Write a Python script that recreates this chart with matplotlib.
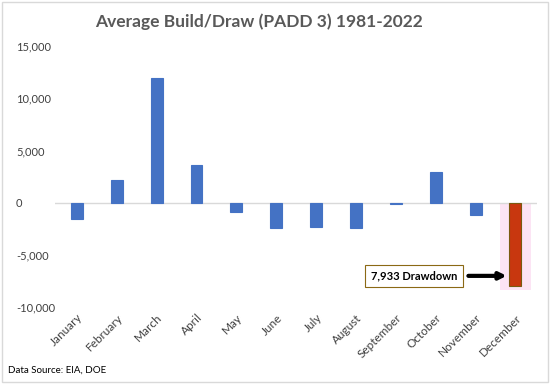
import matplotlib.pyplot as plt
from matplotlib.patches import Rectangle

# ==============================
# Data
# ==============================
months = ["January", "February", "March", "April", "May", "June", "July",
          "August", "September", "October", "November", "December"]
avg_change = [-1600, 2200, 11900, 3600, -850, -2450, -2350, -2450, -150, 2900, -1150, -7933]
yticks = [-10000, -5000, 0, 5000, 10000, 15000]

plt.rcParams['font.family'] = ['Lato', 'DejaVu Sans']

fig = plt.figure(figsize=(5.5, 3.84), dpi=100)
ax = fig.add_axes([0.1, 0.2, 0.877, 0.68])

colors = ['#4472C4'] * 11 + ['#C8370F']
edges = ['#4472C4'] * 11 + ['#7A5A10']
x = list(range(len(months)))
ax.bar(x, avg_change, width=0.3, color=colors, edgecolor=edges, linewidth=0.8, zorder=3)

# highlight behind December bar
ax.add_patch(Rectangle((10.62, -8400), 0.76, 8400, facecolor='#FCE4F4', edgecolor='none', zorder=1))

ax.axhline(0, color='#D9D9D9', linewidth=1, zorder=2)
ax.set_xlim(-0.55, 11.55)
ax.set_ylim(-10000, 15000)
ax.set_yticks(yticks)
ax.set_yticklabels([f"{v:,}" for v in yticks], fontsize=8, color='#404040')
ax.set_xticks(x)
ax.set_xticklabels(months, rotation=45, ha='right', rotation_mode='anchor', fontsize=8.5, color='#404040')
ax.tick_params(length=0)
ax.tick_params(axis='y', pad=28)
for lbl in ax.get_yticklabels():
    lbl.set_horizontalalignment('left')
for s in ax.spines.values():
    s.set_visible(False)

ax.annotate("", xy=(10.85, -7000), xytext=(9.75, -7000),
            arrowprops=dict(arrowstyle='-|>', color='black', lw=3, mutation_scale=10), zorder=5)
ax.text(8.45, -7000, "7,933 Drawdown", fontsize=8, fontweight='bold', va='center', ha='center',
        bbox=dict(boxstyle='square,pad=0.5', facecolor='white', edgecolor='#8B6914', lw=0.8), zorder=5)

fig.suptitle("Average Build/Draw (PADD 3) 1981-2022", x=0.47, y=0.965, fontsize=12.5,
             fontweight='bold', color='#595959')
fig.text(0.015, 0.03, "Data Source: EIA, DOE", fontsize=7, color='black')

fig.patches.append(Rectangle((0.003, 0.005), 0.994, 0.99, transform=fig.transFigure,
                             fill=False, edgecolor='#D9D9D9', lw=1))

plt.savefig("out.png", dpi=100)
plt.close()
